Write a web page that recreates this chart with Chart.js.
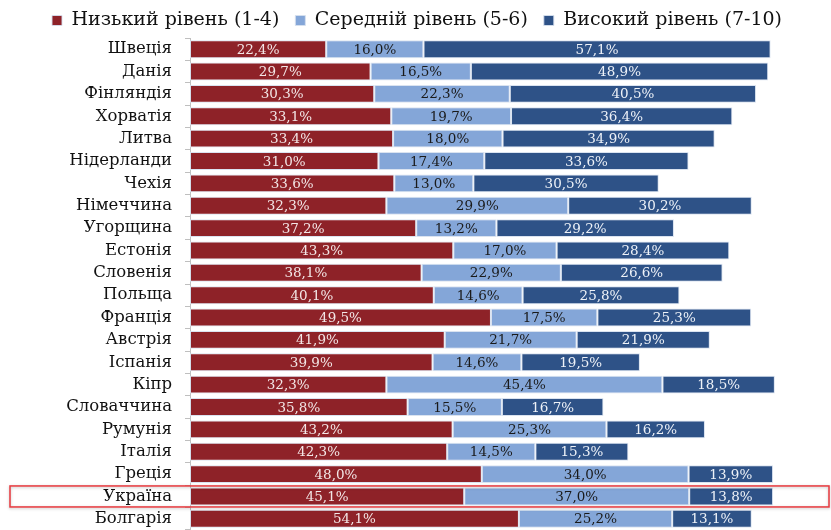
<!DOCTYPE html>
<html>
<head>
<meta charset="utf-8">
<script src="https://cdn.jsdelivr.net/npm/chart.js@4"></script>
<style>
  html, body { margin: 0; padding: 0; background: #fff; }
  #wrap { width: 831px; height: 530px; position: relative; }
</style>
</head>
<body>
<div id="wrap"><canvas id="c" width="831" height="530"></canvas></div>
<script>
const categories = ["Швеція","Данія","Фінляндія","Хорватія","Литва","Нідерланди","Чехія","Німеччина","Угорщина","Естонія","Словенія","Польща","Франція","Австрія","Іспанія","Кіпр","Словаччина","Румунія","Італія","Греція","Україна","Болгарія"];
const seriesNames = ["Низький рівень (1-4)", "Середній рівень (5-6)", "Високий рівень (7-10)"];
const lowLevel  = [22.4,29.7,30.3,33.1,33.4,31.0,33.6,32.3,37.2,43.3,38.1,40.1,49.5,41.9,39.9,32.3,35.8,43.2,42.3,48.0,45.1,54.1];
const midLevel  = [16.0,16.5,22.3,19.7,18.0,17.4,13.0,29.9,13.2,17.0,22.9,14.6,17.5,21.7,14.6,45.4,15.5,25.3,14.5,34.0,37.0,25.2];
const highLevel = [57.1,48.9,40.5,36.4,34.9,33.6,30.5,30.2,29.2,28.4,26.6,25.8,25.3,21.9,19.5,18.5,16.7,16.2,15.3,13.9,13.8,13.1];
const highlighted = "Україна";

const FONT = "'DejaVu Serif', 'Liberation Serif', serif";
const colors = ["#8E2228", "#84A6D8", "#2E5287"];
const labelColors = ["#F3E6E6", "#1a1a1a", "#EEF2F8"];

const valueLabels = {
  id: 'valueLabels',
  afterDatasetsDraw(chart) {
    const ctx = chart.ctx;
    ctx.save();
    ctx.font = "13.5px " + FONT;
    ctx.textAlign = 'center';
    ctx.textBaseline = 'middle';
    chart.data.datasets.forEach((ds, di) => {
      const meta = chart.getDatasetMeta(di);
      meta.data.forEach((bar, i) => {
        const v = ds.data[i];
        const cx = (bar.x + bar.base) / 2;
        ctx.fillStyle = labelColors[di];
        ctx.fillText(v.toFixed(1).replace('.', ',') + '%', cx, bar.y + 1);
      });
    });
    ctx.restore();
  }
};

const highlightBox = {
  id: 'highlightBox',
  afterDraw(chart) {
    const y = chart.scales.y;
    const idx = categories.indexOf(highlighted);
    if (idx < 0) return;
    const cy = y.getPixelForValue(idx);
    const ctx = chart.ctx;
    ctx.save();
    ctx.shadowColor = 'rgba(0,0,0,0.25)';
    ctx.shadowBlur = 3;
    ctx.shadowOffsetY = 1;
    ctx.strokeStyle = '#E8393E';
    ctx.lineWidth = 1.5;
    ctx.strokeRect(10, cy - 10.5, 819, 21);
    ctx.restore();
  }
};

// keep the legend's horizontal spacing but limit the height it reserves
const legendHeight = {
  id: 'legendHeight',
  beforeLayout(chart) {
    const lg = chart.legend;
    if (lg && !lg._hPatched) {
      const orig = lg.fit.bind(lg);
      lg.fit = function () { orig(); this.height = 43; };
      lg._hPatched = true;
    }
  }
};

new Chart(document.getElementById('c'), {
  type: 'bar',
  data: {
    labels: categories,
    datasets: [
      { label: seriesNames[0], data: lowLevel,  backgroundColor: colors[0] },
      { label: seriesNames[1], data: midLevel,  backgroundColor: colors[1] },
      { label: seriesNames[2], data: highLevel, backgroundColor: colors[2] }
    ]
  },
  options: {
    indexAxis: 'y',
    responsive: false,
    animation: false,
    devicePixelRatio: 1,
    layout: { padding: { top: -5, right: 33, left: 0, bottom: 0 } },
    datasets: {
      bar: {
        barPercentage: 0.8,
        categoryPercentage: 1,
        borderWidth: 1,
        borderColor: 'rgba(214,224,238,0.9)',
        borderSkipped: false
      }
    },
    scales: {
      x: { stacked: true, display: false, min: 0, max: 100 },
      y: {
        stacked: true,
        afterFit(scale) { scale.width = 190; scale.paddingTop = 0; scale.paddingBottom = 0; },
        grid: { display: true, drawOnChartArea: false, drawTicks: true, tickLength: 5, offset: true, color: '#bfbfbf' },
        border: { display: true, color: '#bfbfbf' },
        ticks: { autoSkip: false, padding: 13, color: '#111', font: { family: FONT, size: 16.5 } }
      }
    },
    plugins: {
      legend: {
        position: 'top',
        align: 'end',
        labels: {
          boxWidth: 10, boxHeight: 10, padding: 16,
          color: '#111',
          font: { family: FONT, size: 19 }
        }
      },
      tooltip: { enabled: false }
    }
  },
  plugins: [valueLabels, highlightBox, legendHeight]
});
</script>
</body>
</html>
